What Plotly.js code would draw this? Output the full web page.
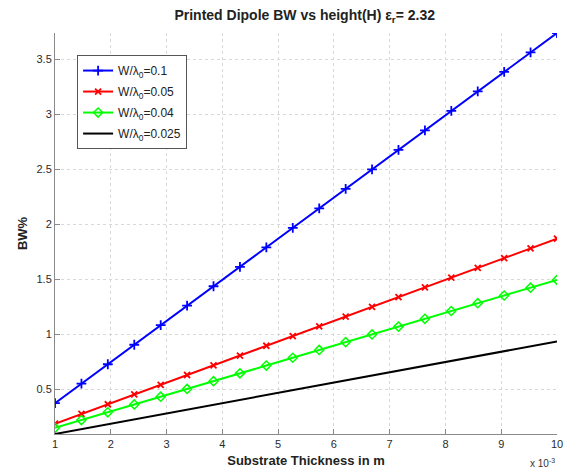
<!DOCTYPE html>
<html>
<head>
<meta charset="utf-8">
<script src="https://cdn.plot.ly/plotly-3.0.1.min.js"></script>
<style>html,body{margin:0;padding:0;background:#fff;}#chart{width:568px;height:471px;}</style>
</head>
<body>
<div id="chart"></div>
<script>
// Substrate thickness (x 10^-3 m)
var thickness = [1.000, 1.474, 1.947, 2.421, 2.895, 3.368, 3.842, 4.316, 4.789, 5.263,
                 5.737, 6.211, 6.684, 7.158, 7.632, 8.105, 8.579, 9.053, 9.526, 10.000];
// BW% for each W/lambda0
var bw_w010 = [0.374, 0.551, 0.728, 0.905, 1.083, 1.260, 1.437, 1.614, 1.791, 1.968,
               2.146, 2.323, 2.500, 2.677, 2.854, 3.031, 3.209, 3.386, 3.563, 3.740];
var bw_w005 = [0.187, 0.276, 0.364, 0.453, 0.541, 0.630, 0.718, 0.807, 0.896, 0.984,
               1.073, 1.161, 1.250, 1.339, 1.427, 1.516, 1.604, 1.693, 1.781, 1.870];
var bw_w004 = [0.150, 0.220, 0.291, 0.362, 0.433, 0.503, 0.574, 0.645, 0.716, 0.787,
               0.858, 0.929, 0.999, 1.070, 1.141, 1.212, 1.283, 1.353, 1.424, 1.495];
var bw_w0025 = [0.0935, 0.138, 0.182, 0.226, 0.271, 0.315, 0.359, 0.404, 0.448, 0.492,
                0.536, 0.581, 0.625, 0.669, 0.714, 0.758, 0.802, 0.846, 0.891, 0.935];
var seriesNames = ['W/λ<sub>0</sub>=0.1', 'W/λ<sub>0</sub>=0.05', 'W/λ<sub>0</sub>=0.04', 'W/λ<sub>0</sub>=0.025'];
var xTicks = [1, 2, 3, 4, 5, 6, 7, 8, 9, 10];
var yTicks = [0.5, 1, 1.5, 2, 2.5, 3, 3.5];

var font = 'Arial, "Liberation Sans", Helvetica, sans-serif';

var traces = [
  {x: thickness, y: bw_w010, name: seriesNames[0], legendgroup: 'a', mode: 'lines+markers',
   line: {color: '#0000ff', width: 2},
   marker: {symbol: 'cross-thin', size: 7, line: {color: '#0000ff', width: 1.8}}},
  {x: thickness, y: bw_w005, name: seriesNames[1], legendgroup: 'b', mode: 'lines+markers',
   line: {color: '#ff0000', width: 2},
   marker: {symbol: 'x-thin', size: 6, line: {color: '#ff0000', width: 1.8}}},
  {x: thickness, y: bw_w004, name: seriesNames[2], legendgroup: 'c', mode: 'lines+markers',
   line: {color: '#00ff00', width: 2},
   marker: {symbol: 'diamond-open', size: 7, color: '#00ff00', line: {color: '#00ff00', width: 1.5}}},
  {x: thickness, y: bw_w0025, name: seriesNames[3], legendgroup: 'd', mode: 'lines',
   line: {color: '#000000', width: 2}}
];

var layout = {
  width: 568, height: 471,
  margin: {l: 55, r: 11, t: 33, b: 37},
  paper_bgcolor: '#ffffff', plot_bgcolor: '#ffffff',
  font: {family: font, size: 11, color: '#333333'},
  title: {text: '<b>Printed Dipole BW vs height(H) ε<sub>r</sub>= 2.32</b>',
          font: {family: font, size: 14, color: '#222222'},
          x: 0.5365, xanchor: 'center', y: 0.968, yanchor: 'middle'},
  showlegend: true,
  legend: {x: 0.044, y: 0.945, xanchor: 'left', yanchor: 'top',
           bgcolor: '#ffffff', bordercolor: '#555555', borderwidth: 1,
           font: {family: font, size: 12, color: '#222222'},
           tracegroupgap: 2, itemwidth: 30},
  xaxis: {
    range: [1, 10], tickvals: xTicks, ticktext: xTicks.map(String),
    showline: true, linecolor: '#8a8a8a', linewidth: 1, mirror: false,
    ticks: 'inside', ticklen: 5, tickcolor: '#8a8a8a',
    showgrid: true, gridcolor: '#d8d8d8', griddash: 'dot', gridwidth: 1,
    zeroline: false,
    tickfont: {family: font, size: 11, color: '#2a2a2a'},
    title: {text: '<b>Substrate Thickness in m</b>', font: {family: font, size: 13, color: '#222222'}, standoff: 6}
  },
  yaxis: {
    range: [0.0935, 3.74], tickvals: yTicks, ticktext: yTicks.map(String),
    showline: true, linecolor: '#8a8a8a', linewidth: 1, mirror: false,
    ticks: 'inside', ticklen: 5, tickcolor: '#8a8a8a',
    showgrid: true, gridcolor: '#d8d8d8', griddash: 'dot', gridwidth: 1,
    zeroline: false,
    tickfont: {family: font, size: 11, color: '#2a2a2a'},
    title: {text: '<b>BW%</b>', font: {family: font, size: 13, color: '#222222'}, standoff: 5}
  },
  annotations: [
    {text: 'x 10<sup>-3</sup>', xref: 'paper', yref: 'paper', x: 1.0, y: -0.052,
     xanchor: 'right', yanchor: 'top', showarrow: false,
     font: {family: font, size: 10, color: '#333333'}}
  ]
};

Plotly.newPlot('chart', traces, layout, {displayModeBar: false, staticPlot: true});
</script>
</body>
</html>
